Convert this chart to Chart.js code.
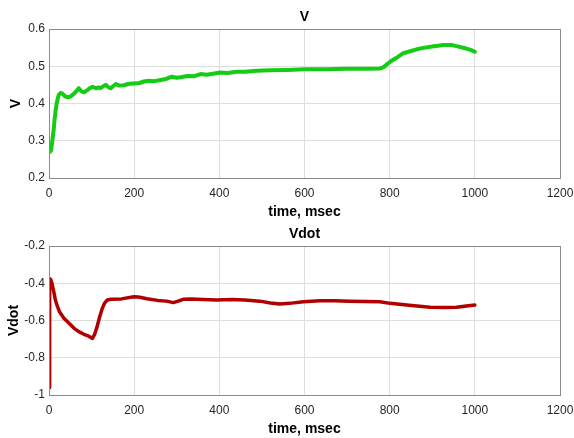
<!DOCTYPE html>
<html>
<head>
<meta charset="utf-8">
<script src="https://cdn.jsdelivr.net/npm/chart.js@4/dist/chart.umd.min.js"></script>
<style>
  body { margin: 0; background: #fff; }
  #wrap { position: relative; width: 574px; height: 438px; }
  canvas { position: absolute; left: 0; }
  #cV { top: 0; }
  #cVdot { top: 217px; }
</style>
</head>
<body>
<div id="wrap">
  <canvas id="cV" width="574" height="219"></canvas>
  <canvas id="cVdot" width="574" height="219"></canvas>
</div>
<script>
// valores
const xTicks = [0, 200, 400, 600, 800, 1000, 1200];
const yTicksV = [0.2, 0.3, 0.4, 0.5, 0.6];
const yTicksVdot = [-1, -0.8, -0.6, -0.4, -0.2];

const tiempoV = [0, 2, 5, 8, 11, 13, 16, 18, 21, 23, 27, 31, 37, 43, 50, 55, 62, 70, 76, 82,
    90, 96, 102, 110, 116, 121, 127, 133, 139, 145, 151, 157, 165, 176, 188, 200, 212, 223, 235, 248,
    262, 275, 288, 300, 312, 325, 340, 356, 370, 385, 402, 420, 440, 460, 488, 520, 560, 601, 650, 700,
    723, 750, 777, 785, 801, 815, 832, 850, 872, 900, 926, 945, 957, 975, 990, 1000];
const valoresV = [0.280, 0.270, 0.275, 0.302, 0.330, 0.356, 0.385, 0.400, 0.415, 0.423, 0.428, 0.427, 0.420, 0.417, 0.418, 0.423, 0.430, 0.441, 0.433, 0.430,
    0.436, 0.441, 0.445, 0.441, 0.443, 0.441, 0.446, 0.450, 0.444, 0.441, 0.447, 0.452, 0.448, 0.449, 0.453, 0.454, 0.455, 0.459, 0.461, 0.460,
    0.463, 0.466, 0.472, 0.469, 0.471, 0.474, 0.473, 0.479, 0.477, 0.480, 0.483, 0.482, 0.485, 0.485, 0.488, 0.489, 0.490, 0.492, 0.492, 0.493,
    0.493, 0.493, 0.494, 0.497, 0.512, 0.522, 0.535, 0.541, 0.548, 0.553, 0.557, 0.557, 0.554, 0.549, 0.544, 0.539];

const tiempoVdot = [0, 1, 2, 4, 7, 12, 15, 20, 25, 35, 47, 59, 70, 82, 92, 102, 107, 113, 119, 125,
    131, 137, 145, 170, 199, 210, 230, 255, 276, 292, 305, 315, 335, 360, 394, 430, 460, 495, 520, 542,
    565, 597, 636, 670, 707, 777, 801, 840, 870, 895, 930, 957, 980, 1000];
const valoresVdot = [-0.960, -0.550, -0.375, -0.380, -0.400, -0.454, -0.490, -0.526, -0.555, -0.588, -0.615, -0.642, -0.660, -0.674, -0.683, -0.696, -0.675, -0.633, -0.580, -0.535,
    -0.505, -0.490, -0.486, -0.484, -0.473, -0.474, -0.483, -0.492, -0.496, -0.504, -0.495, -0.486, -0.484, -0.487, -0.490, -0.487, -0.490, -0.496, -0.506, -0.512,
    -0.508, -0.499, -0.494, -0.494, -0.496, -0.499, -0.508, -0.517, -0.524, -0.529, -0.530, -0.529, -0.522, -0.517];

const fuente = 'Helvetica, "Liberation Sans", Arial, sans-serif';

// marco completo del area (box on)
const cajaPlugin = {
    id: 'caja',
    afterDraw(chart) {
        const a = chart.chartArea;
        const c = chart.ctx;
        c.save();
        c.strokeStyle = '#8a8a8a';
        c.lineWidth = 1;
        c.strokeRect(Math.round(a.left) + 0.5, Math.round(a.top) + 0.5,
            Math.round(a.right - a.left), Math.round(a.bottom - a.top));
        c.restore();
    }
};

function crearGrafica(id, titulo, etiquetaY, tiempos, valores, ticksY, color, grosor, padTitY) {
    const puntos = tiempos.map((t, i) => ({ x: t, y: valores[i] }));
    return new Chart(document.getElementById(id), {
        type: 'line',
        data: {
            datasets: [{
                data: puntos,
                borderColor: color,
                borderWidth: grosor,
                borderJoinStyle: 'round',
                borderCapStyle: 'round',
                pointRadius: 0,
                tension: 0,
                fill: false
            }]
        },
        options: {
            responsive: false,
            animation: false,
            layout: { padding: { left: 0, right: 14, top: 0, bottom: 0 } },
            plugins: {
                legend: { display: false },
                tooltip: { enabled: false }
            },
            scales: {
                x: {
                    type: 'linear',
                    min: xTicks[0],
                    max: xTicks[xTicks.length - 1],
                    afterBuildTicks: s => { s.ticks = xTicks.map(v => ({ value: v })); },
                    afterFit: s => { s.height = 41; },
                    grid: { color: '#dedede', drawTicks: true, tickLength: 8, tickColor: 'rgba(0,0,0,0)' },
                    border: { display: false },
                    ticks: {
                        padding: 0,
                        maxRotation: 0,
                        color: '#262626',
                        font: { family: fuente, size: 12 },
                        callback: v => String(v)
                    },
                    title: {
                        display: true,
                        text: 'time, msec',
                        color: '#000',
                        font: { family: fuente, size: 14, weight: 'bold' },
                        padding: { top: 0, bottom: -2 }
                    }
                },
                // eje superior solo para el titulo, centrado sobre el area
                xTop: {
                    type: 'linear',
                    position: 'top',
                    min: xTicks[0],
                    max: xTicks[xTicks.length - 1],
                    afterFit: s => { s.height = 29; },
                    grid: { display: false },
                    border: { display: false },
                    ticks: { display: false },
                    title: {
                        display: true,
                        text: titulo,
                        color: '#000',
                        font: { family: fuente, size: 14, weight: 'bold' },
                        padding: { top: 8.5, bottom: 0 }
                    }
                },
                y: {
                    min: ticksY[0],
                    max: ticksY[ticksY.length - 1],
                    afterBuildTicks: s => { s.ticks = ticksY.map(v => ({ value: v })); },
                    afterFit: s => { s.width = 49; },
                    grid: { color: '#dedede', drawTicks: false },
                    border: { display: false },
                    ticks: {
                        padding: 4,
                        color: '#262626',
                        font: { family: fuente, size: 12 },
                        callback: v => String(+v.toFixed(1))
                    },
                    title: {
                        display: true,
                        text: etiquetaY,
                        color: '#000',
                        font: { family: fuente, size: 14, weight: 'bold' },
                        padding: { top: padTitY, bottom: 0 }
                    }
                }
            }
        },
        plugins: [cajaPlugin]
    });
}

crearGrafica('cV', 'V', 'V', tiempoV, valoresV, yTicksV, '#14cc14', 4, 8);
crearGrafica('cVdot', 'Vdot', 'Vdot', tiempoVdot, valoresVdot, yTicksVdot, '#b20000', 3.5, 6);
</script>
</body>
</html>
